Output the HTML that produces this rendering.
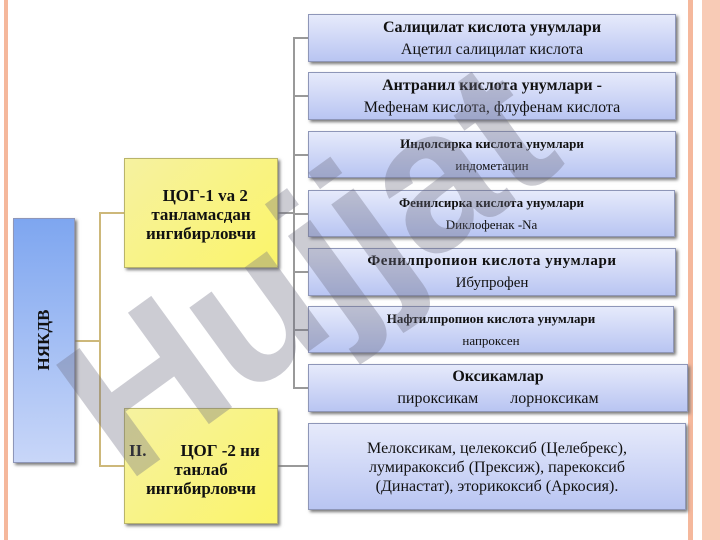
<!DOCTYPE html>
<html><head><meta charset="utf-8"><style>
body{margin:0;width:720px;height:540px;overflow:hidden;background:#fff;position:relative;font-family:"Liberation Serif","DejaVu Serif",serif;color:#111}
.a{position:absolute}
.bx{position:absolute;box-sizing:border-box;background:linear-gradient(#e6eafb,#b9c5f2);border:1px solid #8e96b8;box-shadow:2px 2px 3px #777;text-align:center}
.y{position:absolute;box-sizing:border-box;background:linear-gradient(135deg,#f6f2a0,#fbf46a);border:1px solid #b9b46a;box-shadow:2px 2px 3px #777;text-align:center;font-weight:bold;font-size:17px;line-height:19px}
.l{position:absolute}
b{font-weight:bold}
</style></head><body>
<div class="a" style="left:4px;top:0;width:4px;height:540px;background:#f5b89c"></div>
<div class="a" style="left:688px;top:0;width:5px;height:540px;background:#f5b89c"></div>
<div class="a" style="left:702px;top:0;width:18px;height:540px;background:#f8cbb6"></div>

<div class="l" style="left:75px;top:340px;width:25px;height:2px;background:#cdb87a"></div>
<div class="l" style="left:99px;top:212px;width:2px;height:255px;background:#cdb87a"></div>
<div class="l" style="left:99px;top:212px;width:25px;height:2px;background:#cdb87a"></div>
<div class="l" style="left:99px;top:465px;width:25px;height:2px;background:#cdb87a"></div>
<div class="l" style="left:278px;top:212px;width:16px;height:2px;background:#999"></div>
<div class="l" style="left:293px;top:37px;width:2px;height:352px;background:#999"></div>
<div class="l" style="left:278px;top:465px;width:30px;height:2px;background:#999"></div>
<div class="l" style="left:293px;top:37px;width:15px;height:2px;background:#999"></div>
<div class="l" style="left:293px;top:95px;width:15px;height:2px;background:#999"></div>
<div class="l" style="left:293px;top:154px;width:15px;height:2px;background:#999"></div>
<div class="l" style="left:293px;top:213px;width:15px;height:2px;background:#999"></div>
<div class="l" style="left:293px;top:271px;width:15px;height:2px;background:#999"></div>
<div class="l" style="left:293px;top:329px;width:15px;height:2px;background:#999"></div>
<div class="l" style="left:293px;top:387px;width:15px;height:2px;background:#999"></div>

<div class="bx" style="left:13px;top:218px;width:62px;height:245px;background:linear-gradient(#7ea6f0,#c8d6f8)"></div>
<div class="a" style="left:44px;top:340px;transform:translate(-50%,-50%) rotate(-90deg);font-weight:bold;font-size:17px;white-space:nowrap">НЯКДВ</div>

<div class="y" style="left:124px;top:158px;width:154px;height:110px;padding-top:27px">&nbsp;&nbsp;ЦОГ-1 va 2<br>танламасдан<br>ингибирловчи</div>
<div class="y" style="left:124px;top:408px;width:154px;height:116px;padding-top:32px"><span style="display:block;text-align:left;padding-left:4px">II.&nbsp;&nbsp;&nbsp;&nbsp;&nbsp;&nbsp;&nbsp;&nbsp;ЦОГ -2 ни</span>танлаб<br>ингибирловчи</div>

<div class="bx" style="left:308px;top:14px;width:368px;height:48px;font-size:16px;line-height:22px;padding-top:2px"><b>Салицилат кислота унумлари</b><br>Ацетил салицилат кислота</div>
<div class="bx" style="left:308px;top:72px;width:368px;height:48px;font-size:16px;line-height:22px;padding-top:2px"><b>Антранил кислота унумлари -</b><br>Мефенам кислота, флуфенам кислота</div>
<div class="bx" style="left:308px;top:131px;width:368px;height:47px;font-size:13px;line-height:22px;padding-top:1px"><b>Индолсирка кислота унумлари</b><br>индометацин</div>
<div class="bx" style="left:308px;top:190px;width:367px;height:47px;font-size:13px;line-height:22px;padding-top:1px"><b>Фенилсирка кислота унумлари</b><br>Dиклофенак -Na</div>
<div class="bx" style="left:308px;top:248px;width:368px;height:48px;font-size:15px;line-height:22px;padding-top:1px"><b style="letter-spacing:0.6px">Фенилпропион кислота унумлари</b><br>Ибупрофен</div>
<div class="bx" style="left:308px;top:306px;width:366px;height:47px;font-size:13px;line-height:22px;padding-top:1px"><b>Нафтилпропион кислота унумлари</b><br>напроксен</div>
<div class="bx" style="left:308px;top:364px;width:380px;height:48px;font-size:16px;line-height:22px;padding-top:1px"><b>Оксикамлар</b><br>пироксикам&nbsp;&nbsp;&nbsp;&nbsp;&nbsp;&nbsp;&nbsp;&nbsp;лорноксикам</div>
<div class="bx" style="left:308px;top:423px;width:378px;height:87px;font-size:16px;line-height:19px;padding-top:15px">Мелоксикам, целекоксиб (Целебрекс),<br>лумиракоксиб (Прексиж), парекоксиб<br>(Династат), эторикоксиб (Аркосия).</div>

<div class="a" style="left:145px;top:310px;height:200px;line-height:200px;font-family:'Liberation Sans',sans-serif;font-weight:bold;font-size:200px;color:rgba(110,110,130,0.35);transform:rotate(-36deg);transform-origin:left bottom;white-space:nowrap;letter-spacing:-2px">Hujjat</div>
</body></html>
